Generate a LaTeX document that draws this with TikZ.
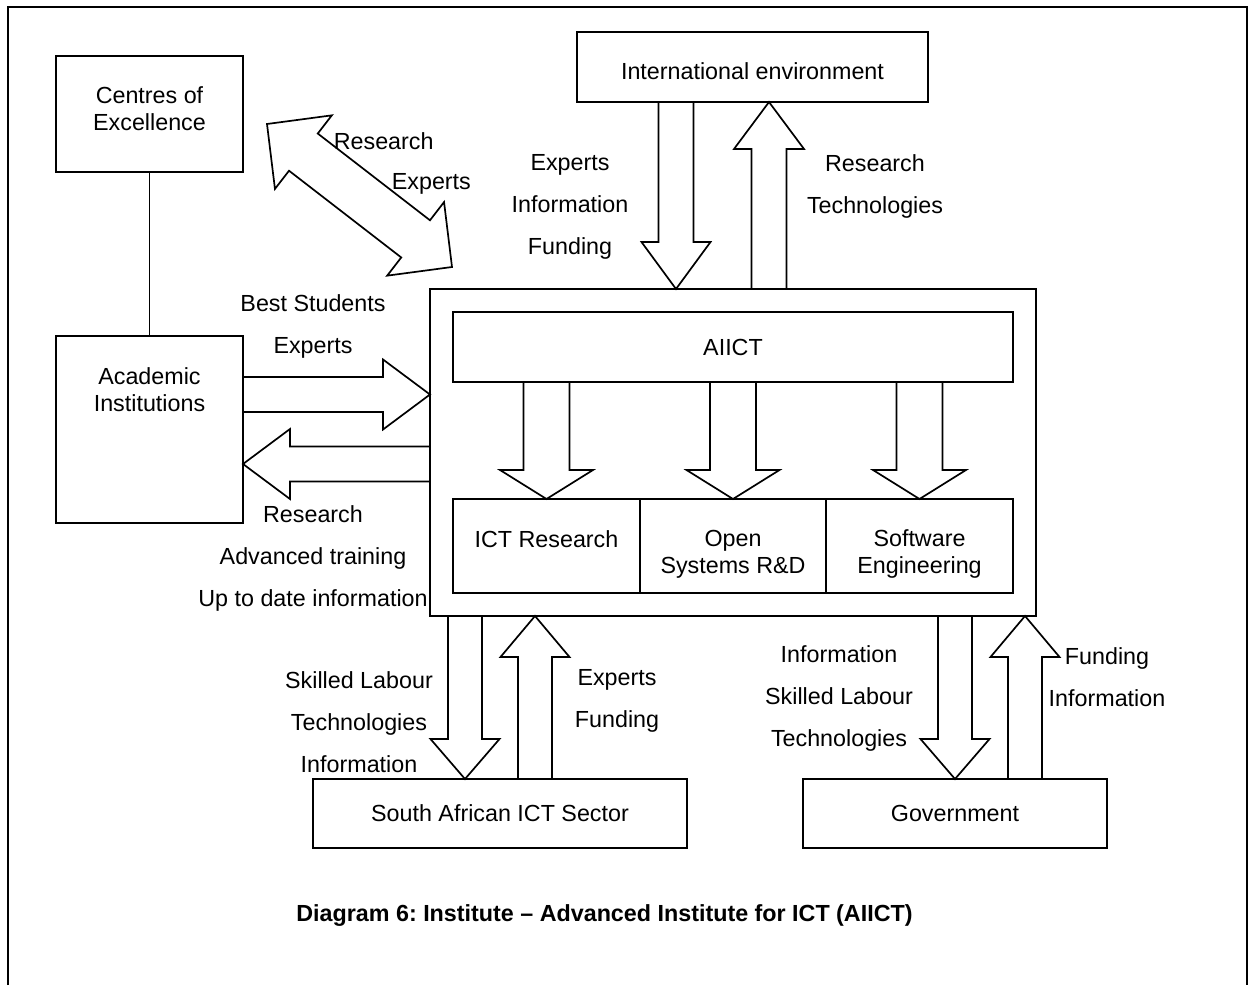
\documentclass[tikz,border=0pt]{standalone}
\usepackage{fontspec}
\setmainfont{Liberation Sans}
\usetikzlibrary{calc,positioning}
\frenchspacing

% block arrow: tail, tip, half shaft width, half head width, head length
\newcommand{\fatarrow}[5]{%
  \coordinate (fa-h) at ($#2!#5!#1$);
  \draw ($#1!#3!90:#2$) -- ($(fa-h)!#3!-90:#1$) -- ($(fa-h)!#4!-90:#1$)
    -- #2 -- ($(fa-h)!#4!90:#1$) -- ($(fa-h)!#3!90:#1$) -- ($#1!#3!-90:#2$);
}
% double block arrow: tip, tip, half shaft width, half head width, head length
\newcommand{\fatdarrow}[5]{%
  \coordinate (fd-a) at ($#1!#5!#2$);
  \coordinate (fd-b) at ($#2!#5!#1$);
  \draw #1 -- ($(fd-a)!#4!90:#2$) -- ($(fd-a)!#3!90:#2$) -- ($(fd-b)!#3!-90:#1$)
    -- ($(fd-b)!#4!-90:#1$) -- #2 -- ($(fd-b)!#4!90:#1$) -- ($(fd-b)!#3!90:#1$)
    -- ($(fd-a)!#3!-90:#2$) -- ($(fd-a)!#4!-90:#2$) -- cycle;
}

\begin{document}
\begin{tikzpicture}[x=1pt, y=-1pt, line width=1.7pt,
    every node/.style={font=\fontsize{23.3}{27}\selectfont},
    box/.style={draw, fill=white, inner sep=0pt, outer sep=0pt, align=center},
    lbl/.style={align=center, font=\fontsize{23.3}{42}\selectfont}]
  \useasboundingbox (0,0) rectangle (1252,985);
  % Frame (open at the bottom)
  \draw (8,985) -- (8,7) -- (1247,7) -- (1247,985);

  % Boxes
  \node[box, minimum width=187pt, minimum height=116pt] (coe) at (149.5,114) {};
  \node[align=center] (coe-txt) at ($(coe.center)+(0,-5)$) {Centres of\\Excellence};
  \node[box, minimum width=187pt, minimum height=187pt] (acad) at (149.5,429.5) {};
  \node[anchor=north, align=center] (acad-txt) at ($(acad.north)+(0,27)$) {Academic\\Institutions};
  \draw (coe) -- (acad);
  \node[box, minimum width=351pt, minimum height=70pt] (intl) at (752.5,67) {};
  \node (intl-txt) at ($(intl.center)+(0,4)$) {International environment};
  \node[box, minimum width=606pt, minimum height=327pt] (main) at (733,452.5) {};
  \node[box, minimum width=560pt, minimum height=70pt] (aiict) at (733,347) {AIICT};
  \node[box, minimum width=187pt, minimum height=94pt, anchor=north west] (ictres) at (453,499) {};
  \node[box, minimum width=186pt, minimum height=94pt, anchor=north west] (opensys) at (ictres.north east) {};
  \node[box, minimum width=187pt, minimum height=94pt, anchor=north west] (softeng) at (opensys.north east) {};
  \node (ictres-txt) at ($(ictres.center)+(0,-7)$) {ICT Research};
  \node[align=center] (opensys-txt) at ($(opensys.center)+(0,8)$) {Open\\Systems R\&D};
  \node[align=center] (softeng-txt) at ($(softeng.center)+(0,8)$) {Software\\Engineering};
  \node[box, minimum width=374pt, minimum height=69pt] (sa) at (500,813.5) {South African ICT Sector};
  \node[box, minimum width=304pt, minimum height=69pt] (gov) at (955,813.5) {Government};

  % International environment
  \coordinate (intl-dn) at ($(intl.south west)+(99,0)$);
  \coordinate (intl-up) at ($(intl.south west)+(192,0)$);
  \fatarrow{(intl-dn)}{(intl-dn |- main.north)}{17.5pt}{34.5pt}{47pt}
  \fatarrow{(intl-up |- main.north)}{(intl-up)}{17.5pt}{35pt}{47pt}
  \node[lbl] (intl-in) at (570,207) {Experts\\Information\\Funding};
  \node[lbl] (intl-out) at (875,186) {Research\\Technologies};

  % Academic institutions
  \coordinate (acad-out) at ($(acad.north east)+(0,58.5)$);
  \coordinate (acad-in) at ($(acad.north east)+(0,128)$);
  \fatarrow{(acad-out)}{(acad-out -| main.west)}{17.5pt}{35pt}{47pt}
  \fatarrow{(acad-in -| main.west)}{(acad-in)}{17.5pt}{35pt}{47pt}
  \node[lbl] (acad-out-lbl) at (313,326.5) {Best Students\\Experts};
  \node[lbl] (acad-in-lbl) at (313,558) {Research\\Advanced training\\Up to date information};

  % Centres of excellence
  \coordinate (coe-a) at ($(coe.north east)+(24,68)$);
  \coordinate (coe-b) at ($(main.north west)+(22,-22)$);
  \fatdarrow{(coe-a)}{(coe-b)}{23.5pt}{46.5pt}{46pt}
  \node[anchor=west, inner sep=0pt] (coe-res) at (333,141) {Research};
  \node[anchor=west, inner sep=0pt] (coe-exp) at (391,184) {Experts};

  % AIICT to its units
  \foreach \u in {ictres,opensys,softeng} {
    \fatarrow{(\u.north |- aiict.south)}{(\u.north)}{23pt}{46.5pt}{29pt}
  }

  % SA ICT sector and government
  \foreach \b in {sa,gov} {
    \coordinate (\b-dn) at ($(\b.north west)+(152,0)$);
    \coordinate (\b-up) at ($(\b.north west)+(222,0)$);
    \fatarrow{(\b-dn |- main.south)}{(\b-dn)}{17pt}{34.5pt}{40pt}
    \fatarrow{(\b-up)}{(\b-up |- main.south)}{17pt}{34.5pt}{41pt}
  }
  \node[lbl] (sa-in) at (359,722) {Skilled Labour\\Technologies\\Information};
  \node[lbl] (sa-out) at (617,700.5) {Experts\\Funding};
  \node[lbl] (gov-in) at (839,698) {Information\\Skilled Labour\\Technologies};
  \node[lbl] (gov-out) at (1107,677) {Funding\\Information};

  % Caption
  \node[font=\fontsize{23.3}{27}\selectfont\bfseries] (caption) at (604.5,916)
    {Diagram 6: Institute – Advanced Institute for ICT (AIICT)};
\end{tikzpicture}
\end{document}
